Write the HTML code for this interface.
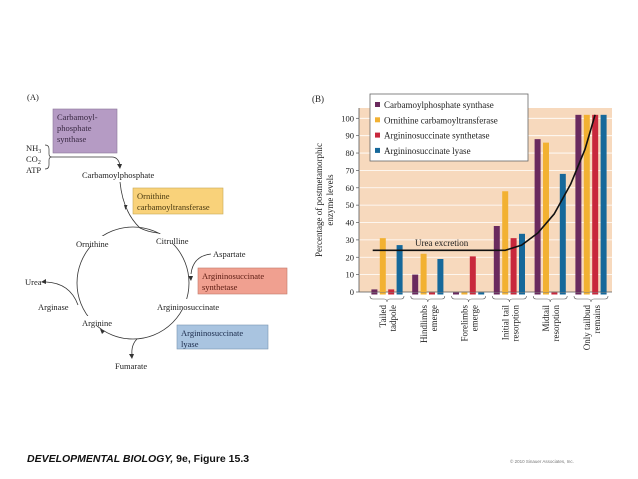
<!DOCTYPE html>
<html><head><meta charset="utf-8"><style>
html,body{margin:0;padding:0;background:#fff;}
svg{display:block;font-family:"Liberation Serif",serif;}
</style></head><body>
<svg width="638" height="479" viewBox="0 0 638 479">
<g id="panelA" font-size="8.5" fill="#222">
  <text x="27" y="100">(A)</text>
  <rect x="53" y="109" width="64" height="44" fill="#b59bc4" stroke="#8a7599" stroke-width="0.6"/>
  <text x="57" y="120" fill="#3a2a44"><tspan x="57">Carbamoyl-</tspan><tspan x="57" dy="11">phosphate</tspan><tspan x="57" dy="11">synthase</tspan></text>
  <text x="26" y="151">NH<tspan font-size="6" dy="2">3</tspan></text>
  <text x="26" y="162">CO<tspan font-size="6" dy="2">2</tspan></text>
  <text x="26" y="173">ATP</text>
  <path d="M45 145 q4 0 4 4 v5 q0 3 3 3 q-3 0 -3 3 v5 q0 4 -4 4" fill="none" stroke="#333" stroke-width="0.7"/>
  <path d="M52 157 H112 q6 0 8 8" fill="none" stroke="#333" stroke-width="0.8"/>
  <path d="M117 164 l3 5 l2 -5z" fill="#333"/>
  <text x="82" y="178">Carbamoylphosphate</text>
  <rect x="133" y="188" width="90" height="26" fill="#f9d27a" stroke="#c9a855" stroke-width="0.6"/>
  <text x="137" y="199" fill="#4a3a10"><tspan x="137">Ornithine</tspan><tspan x="137" dy="11">carbamoyltransferase</tspan></text>
  <path d="M120 182 q3 30 20 46 q8 4 18 5" fill="none" stroke="#333" stroke-width="0.8"/>
  <path d="M124 205 l1.5 5 l2 -5z" fill="#333"/>
  <circle cx="133" cy="283" r="56" fill="none" stroke="#333" stroke-width="0.8"/>
  <rect x="150" y="234" width="42" height="10" fill="#fff"/>
  <rect x="72" y="236" width="42" height="10" fill="#fff"/>
  <rect x="150" y="299" width="80" height="11" fill="#fff"/>
  <rect x="75" y="316" width="40" height="10" fill="#fff"/>
  <text x="156" y="244">Citrulline</text>
  <text x="76" y="247">Ornithine</text>
  <text x="213" y="257">Aspartate</text>
  <path d="M211 254 q-18 2 -20 20" fill="none" stroke="#333" stroke-width="0.8"/>
  <path d="M188 276 l3 5 l2 -5z" fill="#333"/>
  <rect x="198" y="268" width="89" height="26" fill="#f0a090" stroke="#c07a6a" stroke-width="0.6"/>
  <text x="202" y="279" fill="#5a1a10"><tspan x="202">Argininosuccinate</tspan><tspan x="202" dy="11">synthetase</tspan></text>
  <text x="157" y="310">Argininosuccinate</text>
  <text x="82" y="326">Arginine</text>
  <text x="38" y="310">Arginase</text>
  <text x="25" y="285">Urea</text>
  <path d="M78 305 q-8 -22 -32 -23" fill="none" stroke="#333" stroke-width="0.8"/>
  <path d="M46 279 l-5 3 l5 2z" fill="#333"/>
  <path d="M137 339 q-6 6 -5 16" fill="none" stroke="#333" stroke-width="0.8"/>
  <path d="M129 354 l3 5 l2 -5z" fill="#333"/>
  <path d="M105 331 l-5 -2 l2 5z" fill="#333"/>
  <rect x="177" y="325" width="91" height="24" fill="#a9c4e0" stroke="#7a94b0" stroke-width="0.6"/>
  <text x="181" y="336" fill="#1a2a4a"><tspan x="181">Argininosuccinate</tspan><tspan x="181" dy="11">lyase</tspan></text>
  <text x="115" y="369">Fumarate</text>
</g>
<g id="chart"></g>
<text x="27" y="462" font-family="Liberation Sans, sans-serif" font-weight="bold" font-style="italic" font-size="10.5" fill="#111">DEVELOPMENTAL BIOLOGY,<tspan font-style="normal"> 9e, Figure 15.3</tspan></text>
<text x="510" y="463" font-family="Liberation Sans, sans-serif" font-size="4.5" fill="#777">© 2010 Sinauer Associates, Inc.</text>
</svg>
<script>
const categories = [["Tailed","tadpole"],["Hindlimbs","emerge"],["Forelimbs","emerge"],["Initial tail","resorption"],["Midtail","resorption"],["Only tailbud","remains"]];
const seriesNames = ["Carbamoylphosphate synthase","Ornithine carbamoyltransferase","Argininosuccinate synthetase","Argininosuccinate lyase"];
const cpsValues = [1.5, 10, null, 38, 88, 102];
const otcValues = [31, 22, null, 58, 86, 102];
const assValues = [1.5, null, 20.5, 31, null, 102];
const aslValues = [27, 19, null, 33.5, 68, 102];
const yTicks = [0,10,20,30,40,50,60,70,80,90,100];
const ureaCurve = [[-0.35,24],[1,24],[2,24],[2.9,24],[3.3,27],[3.7,34],[4.1,45],[4.5,62],[4.85,82],[5.1,102]];
const colors = ["#6a2a5e","#f2b132","#c8283c","#16689a"];
const NS="http://www.w3.org/2000/svg";
const g=document.getElementById('chart');
const X0=359,X1=612,YT=108,YB=292;
function y(v){return YB - v*(YB-118.3)/100;}
function xc(i){return 387 + i*40.8;}
function mk(t,a,p){const e=document.createElementNS(NS,t);for(const k in a)e.setAttribute(k,a[k]);(p||g).appendChild(e);return e;}
const bg=mk('rect',{x:X0,y:YT,width:X1-X0,height:YB-YT,fill:"#f7d9bd"});


yTicks.forEach(t=>{
  if(t>0){const gl=mk('line',{x1:X0,x2:X1,y1:y(t),y2:y(t),stroke:"#fff",'stroke-width':0.8});
  
  }
  mk('line',{x1:X0-3,x2:X0,y1:y(t),y2:y(t),stroke:"#555",'stroke-width':0.7});
  const tl=mk('text',{x:X0-5,y:y(t)+3,'text-anchor':'end','font-size':8.5,fill:"#222"});
  tl.textContent=t;
  
  
});
mk('line',{x1:X0,x2:X0,y1:YT,y2:YB,stroke:"#555",'stroke-width':0.8});
mk('line',{x1:X0,x2:X1,y1:YB,y2:YB,stroke:"#555",'stroke-width':0.8});
const series=[cpsValues,otcValues,assValues,aslValues];
const pitch=8.4,bw=6;
series.forEach((vals,s)=>{
  vals.forEach((v,i)=>{
    const bx=xc(i)+(s-1.5)*pitch-bw/2;
    mk('rect',{x:bx,y:YB+0.5,width:bw,height:2,fill:colors[s]});
    if(v==null)return;
    const r=mk('rect',{x:bx,y:y(v),width:bw,height:YB-y(v),fill:colors[s]});
    
    
  });
});
let d="";
ureaCurve.forEach((p,i)=>{d+=(i?"L":"M")+xc(p[0]).toFixed(1)+" "+y(p[1]).toFixed(1)+" ";});
const cv=mk('path',{d:d,fill:"none",stroke:"#111",'stroke-width':1.6,'stroke-linejoin':'round'});


const ul=mk('text',{x:415,y:246,'font-size':9,fill:"#222"});
ul.textContent="Urea excretion";


categories.forEach((c,i)=>{
  const cx=xc(i);
  mk('path',{d:`M${cx-17} 296 q0 3 3 3 H${cx-3} q3 0 3 3 q0 -3 3 -3 H${cx+14} q3 0 3 -3`,fill:"none",stroke:"#555",'stroke-width':0.6});
  c.forEach((line,j)=>{
    const tx=cx-4+j*10;
    const t=mk('text',{x:0,y:0,transform:`translate(${tx+3},305) rotate(-90)`,'text-anchor':'end','font-size':9,fill:"#222"});
    t.textContent=line;
    
    
  });
});
const yt=mk('text',{transform:"translate(322,200) rotate(-90)",'text-anchor':'middle','font-size':9,fill:"#222"});
yt.innerHTML='<tspan x="0" y="0">Percentage of postmetamorphic</tspan><tspan x="0" y="11">enzyme levels</tspan>';


const pb=mk('text',{x:312,y:102,'font-size':9,fill:"#222"});
pb.textContent="(B)";


const lg=mk('g',{});


mk('rect',{x:370,y:94,width:158,height:67,fill:"#fff",stroke:"#666",'stroke-width':0.8},lg);
seriesNames.forEach((n,s)=>{
  const ly=105+s*15.3;
  mk('rect',{x:375,y:ly-3,width:5,height:5,fill:colors[s]},lg);
  const t=mk('text',{x:384,y:ly+3,'font-size':9,fill:"#222"},lg);
  t.textContent=n;
  
  
});
</script>
</body></html>
